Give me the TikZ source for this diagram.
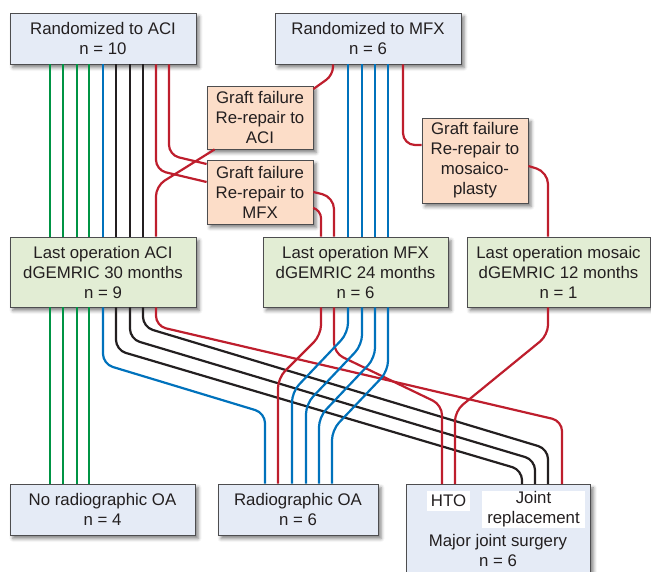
\documentclass[tikz,border=0pt]{standalone}
\usepackage{fontspec}
\setmainfont{Liberation Sans}
\usepackage{xcolor}
\usetikzlibrary{shadows.blur}

\definecolor{boxblue}{RGB}{229,235,246}
\definecolor{boxgreen}{RGB}{226,237,212}
\definecolor{boxpeach}{RGB}{252,221,200}
\definecolor{boxline}{RGB}{77,77,79}
\definecolor{txt}{RGB}{35,31,32}
\definecolor{lgreen}{RGB}{0,148,68}
\definecolor{lblue}{RGB}{0,114,188}
\definecolor{lblack}{RGB}{35,31,32}
\definecolor{lred}{RGB}{190,30,45}

\begin{document}
\begin{tikzpicture}[x=1pt,y=-1pt,
    flowbox/.style={draw=boxline,line width=0.8pt,inner sep=0pt,align=center,text=txt,
      font=\fontsize{16.8}{20}\selectfont,
      blur shadow={shadow xshift=3pt,shadow yshift=-3.5pt,shadow blur radius=3.5pt,shadow opacity=50}},
    randbox/.style={flowbox,fill=boxblue,minimum height=51pt},
    graftbox/.style={flowbox,fill=boxpeach,minimum width=106pt},
    lastbox/.style={flowbox,fill=boxgreen,minimum height=70pt},
    outbox/.style={flowbox,fill=boxblue},
    optag/.style={fill=white,inner sep=0pt,align=center,text=txt,font=\fontsize{16.8}{20}\selectfont},
    lane/.style={line width=2.2pt,rounded corners=10pt},
    gline/.style={lane,draw=lgreen},
    bline/.style={lane,draw=lblue},
    kline/.style={lane,draw=lblack},
    rline/.style={lane,draw=lred}]
  \useasboundingbox (0,0) rectangle (651,571);

  % randomisation
  \node[randbox,minimum width=186pt] (aci) at (103,38.5) {Randomized to ACI\\n = 10};
  \node[randbox,minimum width=186pt] (mfx) at (368,38.5) {Randomized to MFX\\n = 6};

  % re-repair after graft failure
  \node[graftbox,minimum height=63pt] (graftaci) at (260,117.5) {Graft failure\\Re-repair to\\ACI};
  \node[graftbox,minimum height=64pt] (graftmfx) at (260,192) {Graft failure\\Re-repair to\\MFX};
  \node[graftbox,minimum height=85pt] (graftmos) at (475,160.5) {Graft failure\\Re-repair to\\mosaico-\\plasty};

  % last operation
  \node[lastbox,minimum width=186pt] (lastaci) at (103,272) {Last operation ACI\\dGEMRIC 30 months\\n = 9};
  \node[lastbox,minimum width=185pt] (lastmfx) at (355.5,272) {Last operation MFX\\dGEMRIC 24 months\\n = 6};
  \node[lastbox,minimum width=183pt] (lastmos) at (558.5,272) {Last operation mosaic\\dGEMRIC 12 months\\n = 1};

  % outcome
  \node[outbox,minimum width=185pt,minimum height=51pt] (norad) at (102.5,509.5) {No radiographic OA\\n = 4};
  \node[outbox,minimum width=160pt,minimum height=51pt] (rad) at (298,509.5) {Radiographic OA\\n = 6};
  \node[outbox,minimum width=184pt,minimum height=100pt,anchor=north west] (major) at (406,484) {};
  \node[optag,minimum width=43pt,minimum height=20pt] (hto) at (448.5,501) {HTO};
  \node[optag,minimum width=103pt,minimum height=37pt] (jointrep) at (533.5,509.5) {Joint\\replacement};
  \node[optag,fill=none] (majorlbl) at (498,550) {Major joint surgery\\n = 6};

  % ACI arm down to last operation
  \draw[gline] (aci.south -| 50,0) -- (lastaci.north -| 50,0);
  \draw[gline] (aci.south -| 63,0) -- (lastaci.north -| 63,0);
  \draw[gline] (aci.south -| 77,0) -- (lastaci.north -| 77,0);
  \draw[gline] (aci.south -| 89,0) -- (lastaci.north -| 89,0);
  \draw[bline] (aci.south -| 103,0) -- (lastaci.north -| 103,0);
  \draw[kline] (aci.south -| 116,0) -- (lastaci.north -| 116,0);
  \draw[kline] (aci.south -| 130,0) -- (lastaci.north -| 130,0);
  \draw[kline] (aci.south -| 143,0) -- (lastaci.north -| 143,0);
  \draw[rline] (aci.south -| 156,0) -- (156,170) -- (graftmfx.west |- 0,182);
  \draw[rline] (aci.south -| 169,0) -- (169,155) -- (graftmfx.west |- 0,164);
  \draw[rline] ([xshift=8pt]graftaci.south west) -- (156,186) -- (lastaci.north -| 156,0);

  % MFX arm down to last operation
  \draw[rline,rounded corners=8pt] (mfx.south -| 333,0) -- (333,75) -- (graftaci.east |- 0,89);
  \draw[bline] (mfx.south -| 348,0) -- (lastmfx.north -| 348,0);
  \draw[bline] (mfx.south -| 362,0) -- (lastmfx.north -| 362,0);
  \draw[bline] (mfx.south -| 375,0) -- (lastmfx.north -| 375,0);
  \draw[bline] (mfx.south -| 388,0) -- (lastmfx.north -| 388,0);
  \draw[rline,rounded corners=12pt] (mfx.south -| 403,0) -- (403,145) -- (graftmos.west |- 0,145);
  \draw[rline,rounded corners=12pt] (graftmos.east |- 0,166) -- (548,172) -- (lastmos.north -| 548,0);
  \draw[rline,rounded corners=12pt] (graftmfx.east |- 0,192) -- (334,197) -- (lastmfx.north -| 334,0);
  \draw[rline,rounded corners=8pt] (graftmfx.east |- 0,208) -- (321,210) -- (lastmfx.north -| 321,0);

  % last ACI to outcome
  \draw[gline] (lastaci.south -| 50,0) -- (norad.north -| 50,0);
  \draw[gline] (lastaci.south -| 63,0) -- (norad.north -| 63,0);
  \draw[gline] (lastaci.south -| 77,0) -- (norad.north -| 77,0);
  \draw[gline] (lastaci.south -| 89,0) -- (norad.north -| 89,0);
  \draw[bline] (lastaci.south -| 103,0) -- (103,364) -- (265,413) -- (rad.north -| 265,0);
  \draw[kline] (lastaci.south -| 116,0) -- (116,350) -- (522,470) -- (major.north -| 522,0);
  \draw[kline] (lastaci.south -| 130,0) -- (130,339) -- (535,460) -- (major.north -| 535,0);
  \draw[kline] (lastaci.south -| 143,0) -- (143,327) -- (548,449) -- (major.north -| 548,0);
  \draw[rline] (lastaci.south -| 156,0) -- (156,326) -- (562,421) -- (major.north -| 562,0);

  % last MFX and mosaic to outcome
  \draw[rline] (lastmfx.south -| 321,0) -- (321,335) -- (278,378) -- (rad.north -| 278,0);
  \draw[rline] (lastmfx.south -| 334,0) -- (334,353) -- (442,405) -- (major.north -| 442,0);
  \draw[bline] (lastmfx.south -| 348,0) -- (348,333) -- (292,392) -- (rad.north -| 292,0);
  \draw[bline] (lastmfx.south -| 362,0) -- (362,345) -- (306,404) -- (rad.north -| 306,0);
  \draw[bline] (lastmfx.south -| 375,0) -- (375,358) -- (319,417) -- (rad.north -| 319,0);
  \draw[bline] (lastmfx.south -| 388,0) -- (388,371) -- (332,430) -- (rad.north -| 332,0);
  \draw[rline] (lastmos.south -| 548,0) -- (548,335) -- (455,411) -- (major.north -| 455,0);
\end{tikzpicture}
\end{document}
